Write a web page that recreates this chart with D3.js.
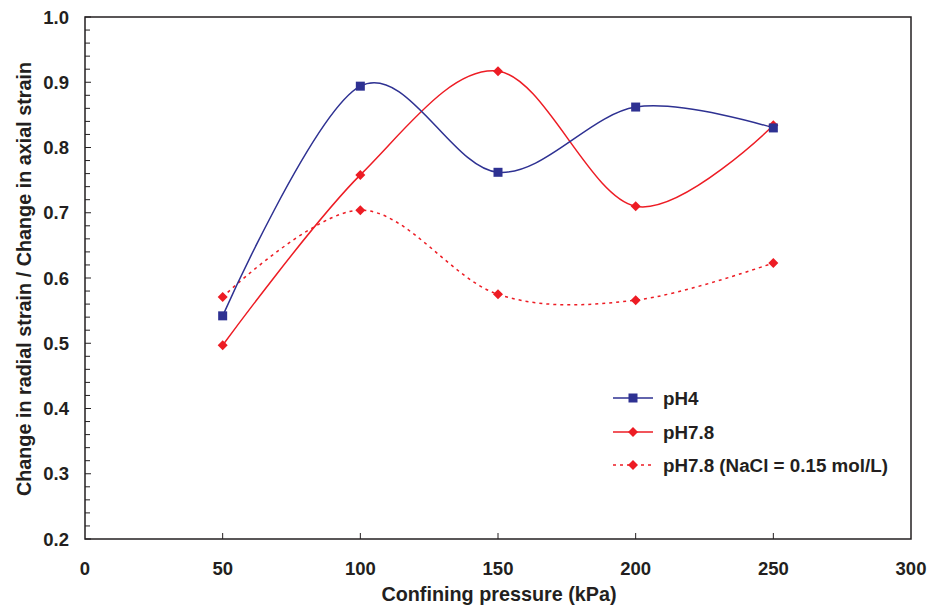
<!DOCTYPE html>
<style>
body { margin: 0; background: #fff; }
svg { display: block; font-family: "Liberation Sans", Arial, sans-serif; font-weight: bold; }
</style>
<svg width="935" height="609"></svg>
<script src="https://d3js.org/d3.v7.min.js"></script>
<script>

var pressures = [50, 100, 150, 200, 250];
var pH4 = [0.542, 0.894, 0.762, 0.862, 0.830];
var pH78 = [0.497, 0.758, 0.917, 0.710, 0.834];
var pH78NaCl = [0.571, 0.704, 0.575, 0.566, 0.623];
var xTicks = [0, 50, 100, 150, 200, 250, 300];
var yTicks = [0.2, 0.3, 0.4, 0.5, 0.6, 0.7, 0.8, 0.9, 1.0];
var seriesNames = ["pH4", "pH7.8", "pH7.8 (NaCl = 0.15 mol/L)"];

var svg = d3.select("svg");
var plotLeft = 85, plotRight = 911, plotTop = 17, plotBottom = 539;

var x = d3.scaleLinear().domain([0, 300]).range([plotLeft, plotRight]);
var y = d3.scaleLinear().domain([0.2, 1.0]).range([plotBottom, plotTop]);

// frame
svg.append("rect")
    .attr("x", plotLeft).attr("y", plotTop)
    .attr("width", plotRight - plotLeft).attr("height", plotBottom - plotTop)
    .attr("fill", "none").attr("stroke", "#231f20").attr("stroke-width", 1.5);

// y ticks, major + minor, pointing in
var yMinor = d3.range(0, 41).map(function(i) { return 0.2 + i * 0.02; });
svg.append("g").selectAll("line")
    .data(yMinor)
    .enter().append("line")
    .attr("x1", plotLeft).attr("x2", function(d, i) { return plotLeft + (i % 5 == 0 ? 6 : 5); })
    .attr("y1", function(d) { return y(d); }).attr("y2", function(d) { return y(d); })
    .attr("stroke", "#231f20").attr("stroke-width", 1);

svg.append("g").selectAll("text")
    .data(yTicks)
    .enter().append("text")
    .attr("x", 69).attr("y", function(d) { return y(d) + 6.5; })
    .attr("text-anchor", "end")
    .attr("font-size", 18.5)
    .attr("fill", "#231f20")
    .text(function(d) { return d3.format(".1f")(d); });

// x ticks
svg.append("g").selectAll("line")
    .data(xTicks.slice(1, -1))
    .enter().append("line")
    .attr("x1", function(d) { return x(d); }).attr("x2", function(d) { return x(d); })
    .attr("y1", plotBottom).attr("y2", plotBottom - 6)
    .attr("stroke", "#231f20").attr("stroke-width", 1);

svg.append("g").selectAll("text")
    .data(xTicks)
    .enter().append("text")
    .attr("x", function(d) { return x(d); }).attr("y", 575)
    .attr("text-anchor", "middle")
    .attr("font-size", 18.5)
    .attr("fill", "#231f20")
    .text(function(d) { return d; });

svg.append("text")
    .attr("x", 499).attr("y", 601)
    .attr("text-anchor", "middle")
    .attr("font-size", 19.8)
    .attr("fill", "#231f20")
    .text("Confining pressure (kPa)");

svg.append("text")
    .attr("transform", "translate(31,279) rotate(-90)")
    .attr("text-anchor", "middle")
    .attr("font-size", 19.8)
    .attr("fill", "#231f20")
    .text("Change in radial strain / Change in axial strain");

var line = d3.line()
    .x(function(d, i) { return x(pressures[i]); })
    .y(function(d) { return y(d); })
    .curve(d3.curveCardinal.tension(0));

var series = [
    { name: seriesNames[0], values: pH4, color: "#2e3192", dash: null, marker: "square" },
    { name: seriesNames[1], values: pH78, color: "#ed1c24", dash: null, marker: "diamond" },
    { name: seriesNames[2], values: pH78NaCl, color: "#ed1c24", dash: "3,4", marker: "diamond" }
];

function drawMarker(g, type, cx, cy, color) {
    if (type == "square") {
        g.append("rect")
            .attr("x", cx - 4.5).attr("y", cy - 4.5)
            .attr("width", 9).attr("height", 9)
            .attr("fill", color);
    } else {
        g.append("path")
            .attr("d", "M" + cx + "," + (cy - 5) + "L" + (cx + 5) + "," + cy +
                       "L" + cx + "," + (cy + 5) + "L" + (cx - 5) + "," + cy + "Z")
            .attr("fill", color);
    }
}

series.slice().reverse().forEach(function(s) {
    var g = svg.append("g");
    g.append("path")
        .attr("d", line(s.values))
        .attr("fill", "none")
        .attr("stroke", s.color)
        .attr("stroke-width", 1.5)
        .attr("stroke-dasharray", s.dash);
    s.values.forEach(function(v, i) {
        drawMarker(g, s.marker, x(pressures[i]), y(v), s.color);
    });
});

// legend
var legendY = [398, 432, 465];
series.forEach(function(s, i) {
    var g = svg.append("g");
    g.append("line")
        .attr("x1", 613).attr("x2", 653)
        .attr("y1", legendY[i]).attr("y2", legendY[i])
        .attr("stroke", s.color).attr("stroke-width", 1.5)
        .attr("stroke-dasharray", s.dash);
    drawMarker(g, s.marker, 633, legendY[i], s.color);
    g.append("text")
        .attr("x", 663).attr("y", legendY[i] + 7)
        .attr("font-size", 18.8)
        .attr("fill", "#231f20")
        .text(s.name);
});

</script>
